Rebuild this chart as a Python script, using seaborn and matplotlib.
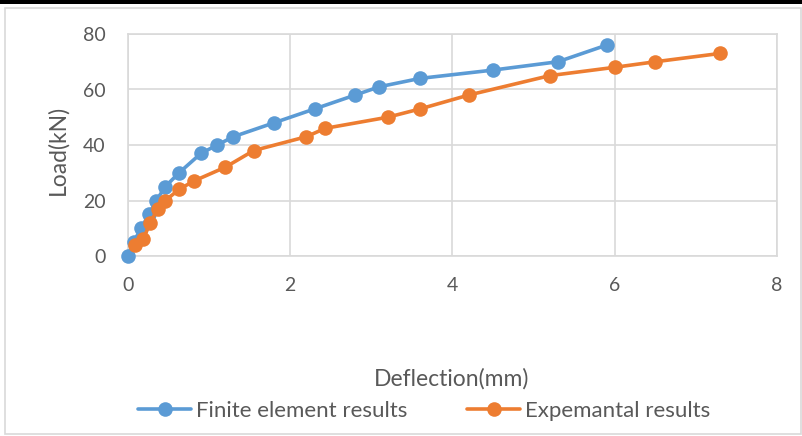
import matplotlib
matplotlib.use("Agg")
import matplotlib.pyplot as plt
import seaborn as sns
import pandas as pd
from matplotlib.patches import Rectangle

fe_x = [0, 0.07, 0.16, 0.26, 0.35, 0.46, 0.63, 0.9, 1.1, 1.3, 1.8, 2.3, 2.8, 3.1, 3.6, 4.5, 5.3, 5.9]
fe_y = [0, 5, 10, 15, 20, 25, 30, 37, 40, 43, 48, 53, 58, 61, 64, 67, 70, 76]
ex_x = [0.09, 0.19, 0.27, 0.37, 0.46, 0.63, 0.81, 1.2, 1.55, 2.2, 2.43, 3.2, 3.6, 4.2, 5.2, 6.0, 6.5, 7.3]
ex_y = [4, 6, 12, 17, 20, 24, 27, 32, 38, 43, 46, 50, 53, 58, 65, 68, 70, 73]
series_names = ["Finite element results", "Expemantal results"]
x_ticks = [0, 2, 4, 6, 8]
y_ticks = [0, 20, 40, 60, 80]

sns.set_style("white")
plt.rcParams['font.family'] = ['Lato', 'DejaVu Sans']
tc = "#595959"

fig = plt.figure(figsize=(8.02, 4.36), dpi=100)
ax = fig.add_axes([128/802, 1 - 256/436, (777-128)/802, (256-34)/436])

palette = {series_names[0]: "#5B9BD5", series_names[1]: "#ED7D31"}
for name, xs, ys in [(series_names[0], fe_x, fe_y), (series_names[1], ex_x, ex_y)]:
    sub = pd.DataFrame({"x": xs, "y": ys})
    sns.lineplot(data=sub, x="x", y="y", sort=False, estimator=None, color=palette[name],
                 marker="o", markersize=10.5, markeredgewidth=0, linewidth=2.6,
                 ax=ax, label=name, clip_on=False, zorder=3)

ax.set_xlim(0, 8)
ax.set_ylim(0, 80)
ax.set_xticks(x_ticks)
ax.set_yticks(y_ticks)
ax.grid(True, color="#D9D9D9", linewidth=1.2)
for sp in ax.spines.values():
    sp.set_color("#D9D9D9")
    sp.set_linewidth(1.2)
ax.tick_params(axis="both", length=0, labelsize=14, colors=tc)
ax.tick_params(axis="y", pad=16)
ax.tick_params(axis="x", pad=15)
ax.set_xlabel("Deflection(mm)", fontsize=16.5, color=tc)
ax.set_ylabel("Load(kN)", fontsize=16.5, color=tc)
ax.xaxis.label.set_va("center")
ax.yaxis.label.set_va("center")
ax.xaxis.set_label_coords((452-128)/649, (256-379)/222)
ax.yaxis.set_label_coords((58-128)/649, (256-150)/222)

ax.get_legend().remove()
handles, labels = ax.get_legend_handles_labels()
fig.legend(handles, labels, loc="center", bbox_to_anchor=(424/802, 1 - 411/436), ncol=2,
           frameon=False, fontsize=16, labelcolor=tc, handlelength=2.4, handletextpad=0.2,
           columnspacing=2.7)

fig.patches.append(Rectangle((5/802, 2/436), 796/802, 426/436, transform=fig.transFigure,
                             fill=False, edgecolor="#D9D9D9", linewidth=1.2))
fig.patches.append(Rectangle((0, 1 - 4/436), 1, 4/436, transform=fig.transFigure,
                             facecolor="black", edgecolor="none"))

fig.savefig("out.png", dpi=100)
